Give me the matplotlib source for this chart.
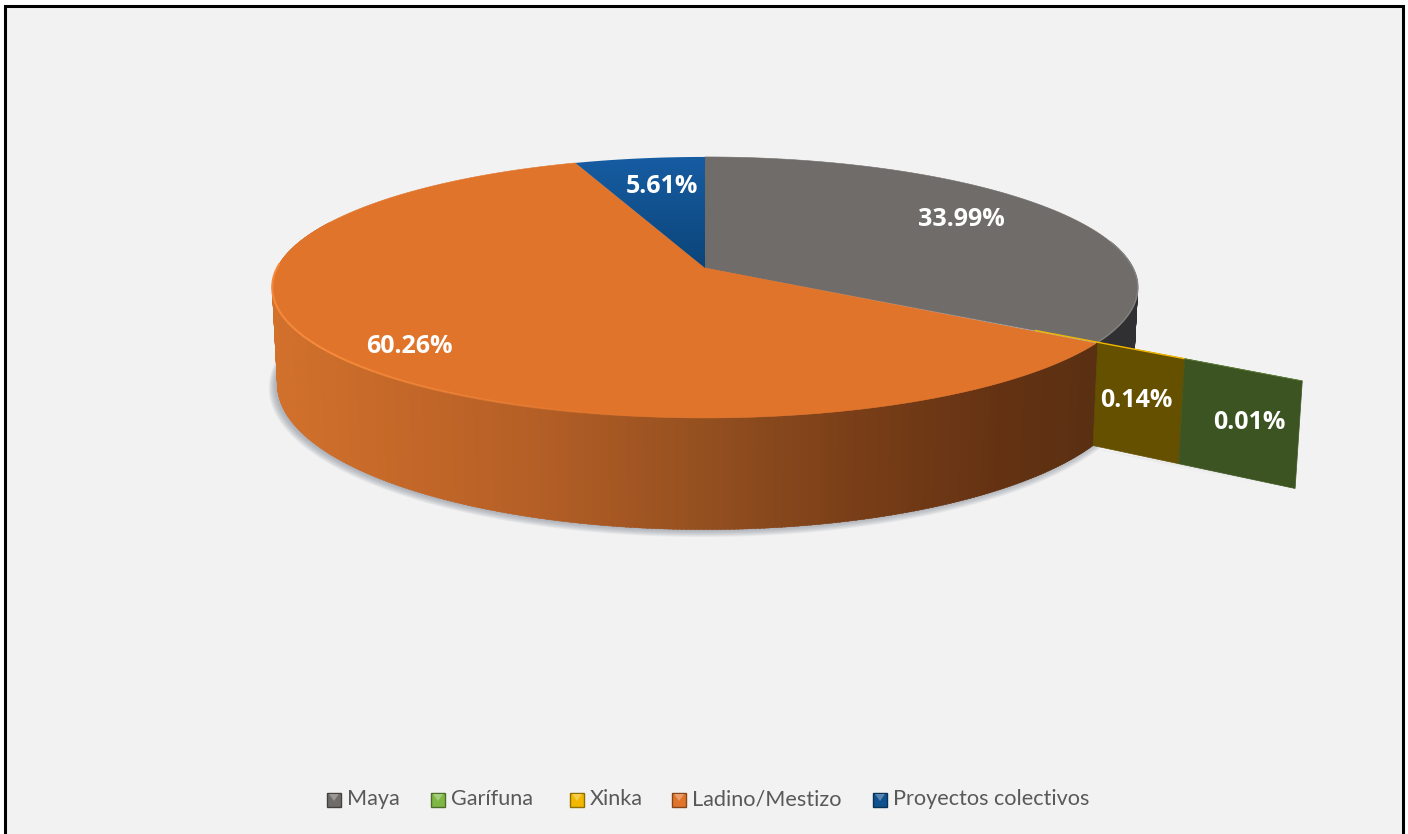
import numpy as np
import matplotlib
matplotlib.use("Agg")
import matplotlib.pyplot as plt
from matplotlib.patches import Polygon, Rectangle
from matplotlib.colors import to_rgb, LinearSegmentedColormap

categories = ["Maya", "Garífuna", "Xinka", "Ladino/Mestizo", "Proyectos colectivos"]
values = [33.99, 0.01, 0.14, 60.26, 5.61]
labels = ["33.99%", "0.01%", "0.14%", "60.26%", "5.61%"]
colors = ["#6f6c6a", "#7fb744", "#f2b800", "#e1742b", "#10528f"]
legend_x = [327, 431, 570, 672, 873]

# projection of the disc
CX, CY = 705, 268
R, K, P = 428, 127.6, 0.149
H0, XS = 95, 0.988
XINKA_R, GARIFUNA_R = 1.2, 1.46


def top(a, r=1.0):
    a = np.radians(a)
    u, v = r * np.sin(a), r * np.cos(a)
    w = 1 + P * v
    return CX + R * u / w, CY - K * v / w


def bottom(a, r=1.0):
    x, y = top(a, r)
    w = 1 + P * r * np.cos(np.radians(a))
    return CX + (x - CX) * XS, y + H0 / w


def shade(x):
    xs = [270, 530, 700, 850, 1000, 1095]
    stops = np.array([to_rgb(c) for c in ["#d2712c", "#b55f26", "#955020", "#7a3f18", "#643213", "#5a3012"]])
    return [np.interp(x, xs, stops[:, i]) for i in range(3)]


edges = np.cumsum([0] + values) * 360 / sum(values)

fig = plt.figure(figsize=(14.08, 8.34), dpi=100)
ax = fig.add_axes([0, 0, 1, 1])
ax.set_xlim(0, 1408)
ax.set_ylim(834, 0)
ax.axis("off")
ax.add_patch(Rectangle((5, 6), 1398, 840, fc="#f2f2f2", ec="black", lw=2.2))

# shadow under the disc and the two thin slices
aa = np.linspace(0, 360, 361)
bx, by = bottom(aa)
for i in range(8):
    s = 1.0 + 0.0022 * i
    ax.fill(CX - 2 + (bx - CX) * s, by + 1 + (by - 400) * 0.004 * i + i * 0.4,
            color="#7d8490", alpha=0.09, lw=0)
a_cut = edges[2]
gx0, gy0 = bottom(a_cut, XINKA_R)
gx1, gy1 = bottom(a_cut, GARIFUNA_R)
for i in range(5):
    ax.add_patch(Polygon([(gx0 - 90, gy0 - 16), (gx0, gy0 + i), (gx1, gy1 + i)],
                         fc="#7d8490", alpha=0.05, lw=0))

# outer wall, built from thin strips
wall = np.arange(78, 292, 0.5)
for a in wall:
    a2 = a + 0.8
    x0, y0 = top(a)
    x1, y1 = top(a2)
    x2, y2 = bottom(a2)
    x3, y3 = bottom(a)
    if a < edges[3 - 1]:
        c = "#303033"
    else:
        c = shade((x0 + x1) / 2)
    ax.add_patch(Polygon([(x0, y0), (x1, y1), (x2, y2), (x3, y3)], fc=c, ec=c, lw=0.3))

# radial faces of the exploded slices
face = [("#655000", 1.0, XINKA_R), ("#3c5421", XINKA_R, GARIFUNA_R)]
for c, r0, r1 in face:
    pts = [top(a_cut, r0), top(a_cut, r1), bottom(a_cut, r1), bottom(a_cut, r0)]
    ax.add_patch(Polygon(pts, fc=c, ec=c, lw=0.5))

# top of the disc
for i in [0, 3]:
    aa = np.linspace(edges[i], edges[i + 1], 300)
    x, y = top(aa)
    ax.add_patch(Polygon(np.vstack([[CX, CY], np.c_[x, y]]), fc=colors[i], ec=colors[i], lw=0.4))

aa = np.linspace(edges[4], edges[5], 80)
x, y = top(aa)
blue = Polygon(np.vstack([[CX, CY], np.c_[x, y]]), fc="none", ec="none", transform=ax.transData)
ax.add_patch(blue)
cmap = LinearSegmentedColormap.from_list("blue", ["#175da3", "#0b4478"])
im = ax.imshow(np.linspace(0, 1, 100).reshape(-1, 1), cmap=cmap, aspect="auto",
               extent=(570, 706, 270, 155), zorder=2)
im.set_clip_path(blue)
ax.set_xlim(0, 1408)
ax.set_ylim(834, 0)

# rim highlights, the orange one fades out towards the front
aa = np.linspace(78, edges[2], 80)
ax.plot(*top(aa), color="#858280", lw=1.0)
aa = np.linspace(185, 272, 60)
for a0, a1 in zip(aa[:-1], aa[1:]):
    fade = min(1.0, (a0 - 185) / 45)
    ax.plot(*top(np.array([a0, a1])), color="#f58a3c", lw=1.5, alpha=fade, solid_capstyle="butt")

# the thin slices only show up as a line on top
x0, y0 = top(a_cut, 0.85)
x1, y1 = top(a_cut, XINKA_R)
ax.plot([x0, x1], [y0, y1], color=colors[2], lw=1.0, solid_capstyle="butt")
x2, y2 = top(a_cut, GARIFUNA_R)
ax.plot([x1, x2], [y1, y2], color="#5c7d35", lw=0.6, solid_capstyle="butt")

label_pos = [(961, 219), (1249, 422), (1136, 400), (409, 346), (662, 186)]
for t, (x, y) in zip(labels, label_pos):
    ax.text(x, y, t, color="white", fontsize=18, fontweight="bold", family="Open Sans",
            ha="center", va="center", zorder=5)

# legend
for name, c, x in zip(categories, colors, legend_x):
    ax.add_patch(Rectangle((x, 792.5), 14, 14, fc=c, ec="none", zorder=4))
    dark = [v * 0.6 for v in to_rgb(c)]
    light = [min(1, v * 0.7 + 0.3) for v in to_rgb(c)]
    ax.add_patch(Rectangle((x, 792.5), 14, 14, fc="none", ec=dark, lw=1.0, zorder=4))
    ax.add_patch(Polygon([(x + 2, 794), (x + 12, 794), (x + 7, 801)], fc=light, ec="none", zorder=5))
    ax.text(x + 20, 799, name, color="#595959", fontsize=15.6, family="Lato", va="center", ha="left")

fig.savefig("out.png", dpi=100, facecolor="white")
